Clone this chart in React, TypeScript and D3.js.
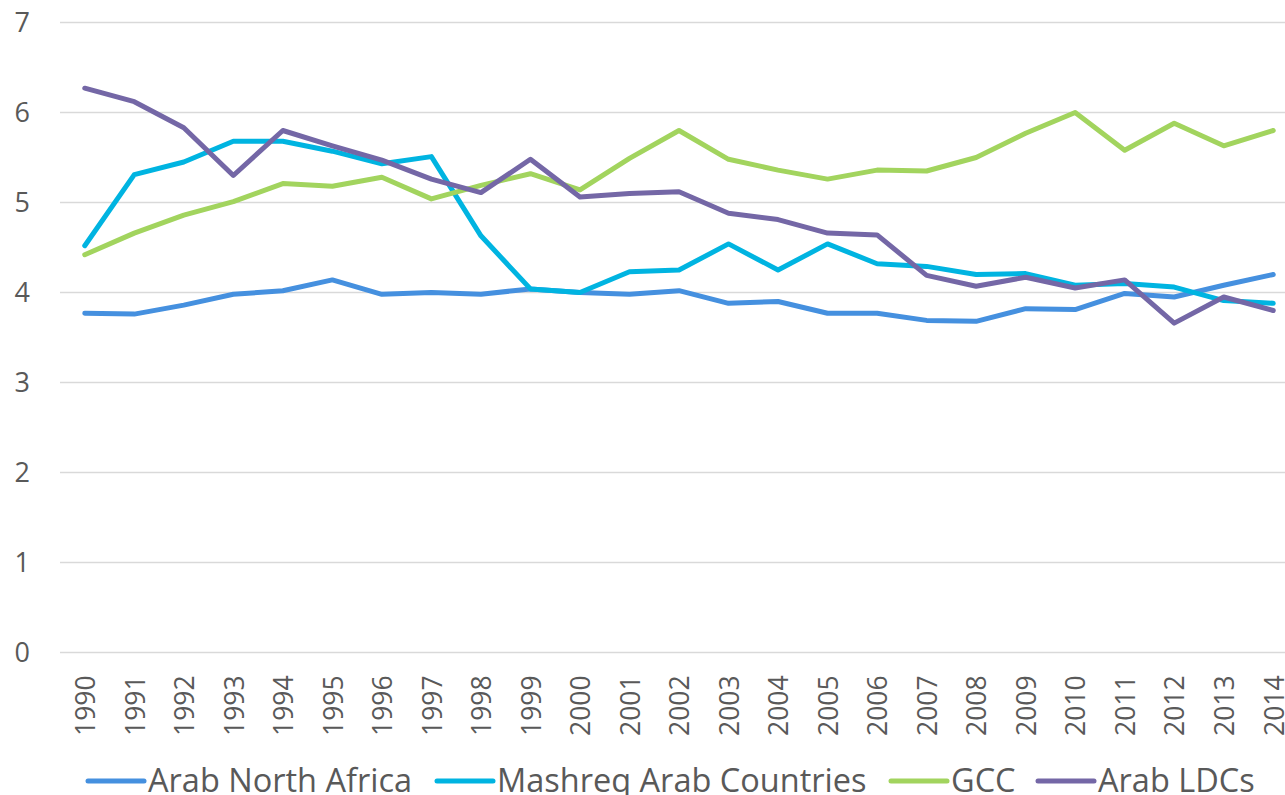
import { useMemo } from "react";
import { line, scaleLinear, scalePoint } from "d3";

const WIDTH = 1285;
const HEIGHT = 795;
const FONT = "'Open Sans', 'DejaVu Sans', sans-serif";
const TEXT_COLOR = "#595959";

const years = [
  "1990", "1991", "1992", "1993", "1994", "1995", "1996", "1997", "1998", "1999", "2000", "2001",
  "2002", "2003", "2004", "2005", "2006", "2007", "2008", "2009", "2010", "2011", "2012", "2013", "2014"
];

const yTicks = [0, 1, 2, 3, 4, 5, 6, 7];

const arabNorthAfrica = [
  3.77, 3.76, 3.86, 3.98, 4.02, 4.14, 3.98, 4.0, 3.98, 4.04, 4.0, 3.98,
  4.02, 3.88, 3.9, 3.77, 3.77, 3.69, 3.68, 3.82, 3.81, 3.99, 3.95, 4.08, 4.2
];
const mashreq = [
  4.52, 5.31, 5.45, 5.68, 5.68, 5.57, 5.43, 5.51, 4.63, 4.04, 4.0, 4.23,
  4.25, 4.54, 4.25, 4.54, 4.32, 4.29, 4.2, 4.21, 4.08, 4.1, 4.06, 3.91, 3.88
];
const gcc = [
  4.42, 4.66, 4.86, 5.01, 5.21, 5.18, 5.28, 5.04, 5.19, 5.32, 5.14, 5.49,
  5.8, 5.48, 5.36, 5.26, 5.36, 5.35, 5.5, 5.77, 6.0, 5.58, 5.88, 5.63, 5.8
];
const arabLdcs = [
  6.27, 6.12, 5.83, 5.3, 5.8, 5.63, 5.47, 5.26, 5.11, 5.48, 5.06, 5.1,
  5.12, 4.88, 4.81, 4.66, 4.64, 4.19, 4.07, 4.17, 4.05, 4.14, 3.66, 3.95, 3.8
];

const seriesNames = ["Arab North Africa", "Mashreq Arab Countries", "GCC", "Arab LDCs"];
const seriesColors = ["#4590DF", "#00B4E1", "#A2D45E", "#7467A6"];
const seriesValues = [arabNorthAfrica, mashreq, gcc, arabLdcs];

// left edge of each legend swatch
const legendX = [88, 437, 891, 1038];

export default function App() {
  const x = useMemo(() => scalePoint<string>().domain(years).range([60, 1298]).padding(0.5), []);
  const y = useMemo(() => scaleLinear().domain([0, 7]).range([652.5, 22.5]), []);

  const path = line<number>()
    .x((_, i) => x(years[i]) ?? 0)
    .y((d) => y(d));

  return (
    <svg
      width={WIDTH}
      height={HEIGHT}
      style={{ position: "absolute", left: 0, top: 0, background: "#fff" }}
      fontFamily={FONT}
    >
      {yTicks.map((t) => (
        <g key={t}>
          <line x1={60} x2={WIDTH} y1={y(t)} y2={y(t)} stroke="#D9D9D9" strokeWidth={1.6} />
          <text x={30} y={y(t)} dy="0.35em" textAnchor="end" fontSize={27} fill={TEXT_COLOR}>
            {t}
          </text>
        </g>
      ))}

      {years.map((yr) => (
        <text
          key={yr}
          transform={`translate(${(x(yr) ?? 0) + 1},736) rotate(-90)`}
          dy="0.35em"
          textAnchor="start"
          fontSize={26.5}
          fill={TEXT_COLOR}
        >
          {yr}
        </text>
      ))}

      {seriesValues.map((vals, i) => (
        <path
          key={seriesNames[i]}
          d={path(vals) ?? ""}
          fill="none"
          stroke={seriesColors[i]}
          strokeWidth={5}
          strokeLinejoin="round"
          strokeLinecap="round"
        />
      ))}

      {seriesNames.map((name, i) => (
        <g key={name}>
          <line
            x1={legendX[i]}
            x2={legendX[i] + 56}
            y1={781}
            y2={781}
            stroke={seriesColors[i]}
            strokeWidth={5}
            strokeLinecap="round"
          />
          <text x={legendX[i] + 60} y={792} fontSize={32.5} fill={TEXT_COLOR}>
            {name}
          </text>
        </g>
      ))}
    </svg>
  );
}
